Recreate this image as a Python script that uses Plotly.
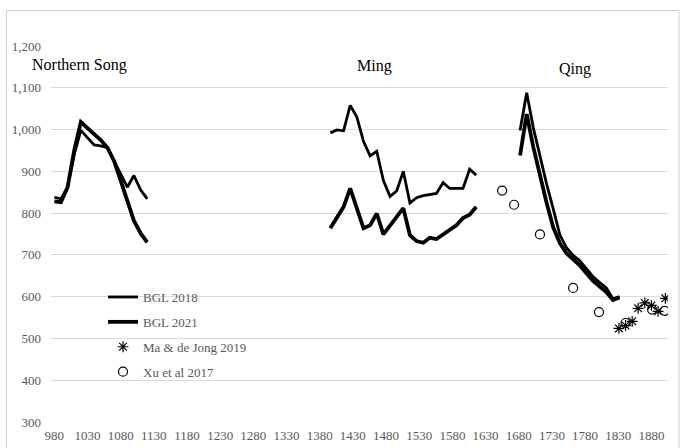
import plotly.graph_objects as go

# ---------------- data ----------------
ns_years = [980, 990, 1000, 1010, 1020, 1030, 1040, 1050, 1060, 1070, 1080, 1090, 1100, 1110, 1120]
ns_bgl2018 = [838, 834, 862, 940, 998, 980, 963, 961, 957, 925, 893, 862, 890, 856, 834]
ns_bgl2021 = [828, 826, 862, 950, 1018, 1004, 990, 975, 957, 925, 878, 830, 782, 752, 730]

ming_years = [1396, 1406, 1416, 1426, 1436, 1446, 1456, 1466, 1476, 1486, 1496, 1506,
              1516, 1526, 1536, 1546, 1556, 1566, 1576, 1586, 1596, 1606, 1616]
ming_bgl2018 = [992, 999, 997, 1058, 1030, 972, 937, 948, 878, 840, 853, 900,
                824, 837, 842, 845, 847, 873, 859, 859, 859, 905, 891]
ming_bgl2021 = [764, 790, 815, 859, 813, 764, 771, 799, 749, 769, 790, 812,
                747, 733, 729, 741, 738, 749, 759, 771, 788, 796, 815]

qing_years = [1682, 1692, 1702, 1712, 1722, 1732, 1742, 1752, 1762, 1772, 1782, 1792, 1802, 1812, 1822, 1832]
qing_bgl2018 = [998, 1088, 1004, 936, 870, 810, 748, 717, 699, 686, 667, 648, 634, 621, 595, 600]
qing_bgl2021 = [938, 1037, 958, 890, 825, 766, 728, 704, 689, 675, 656, 638, 624, 611, 592, 598]

ma_years = [1831, 1841, 1851, 1860, 1870, 1880, 1890, 1901]
ma_values = [524, 531, 541, 572, 585, 579, 565, 596]

xu_years = [1655, 1673, 1712, 1762, 1801, 1841, 1881, 1900]
xu_values = [854, 820, 749, 621, 563, 537, 569, 566]

era_labels = ["Northern Song", "Ming", "Qing"]
x_tick_labels = list(range(980, 1881, 50))
y_tick_values = list(range(300, 1201, 100))


def join_eras(year_lists, value_lists):
    xs, ys = [], []
    for i, (yr, vals) in enumerate(zip(year_lists, value_lists)):
        if i:
            xs.append(None)
            ys.append(None)
        xs.extend(yr)
        ys.extend(vals)
    return xs, ys


x18, y18 = join_eras([ns_years, ming_years, qing_years], [ns_bgl2018, ming_bgl2018, qing_bgl2018])
x21, y21 = join_eras([ns_years, ming_years, qing_years], [ns_bgl2021, ming_bgl2021, qing_bgl2021])

FONT = "Liberation Serif"
GREY = "#595959"

fig = go.Figure()
fig.add_trace(go.Scatter(x=x18, y=y18, mode="lines", name="BGL 2018", legendgroup="a",
                         line=dict(color="black", width=2.8), connectgaps=False))
fig.add_trace(go.Scatter(x=x21, y=y21, mode="lines", name="BGL 2021", legendgroup="b",
                         line=dict(color="black", width=3.8), connectgaps=False))
fig.add_trace(go.Scatter(x=ma_years, y=ma_values, mode="markers", name="Ma & de Jong 2019", legendgroup="c",
                         marker=dict(symbol="asterisk-open", size=9, color="black",
                                     line=dict(color="black", width=1.2))))
fig.add_trace(go.Scatter(x=xu_years, y=xu_values, mode="markers", name="Xu et al 2017", legendgroup="d",
                         marker=dict(symbol="circle-open", size=9, color="black",
                                     line=dict(color="black", width=1.2))))

L, T, W, H = 51, 46, 617, 376


def px2paper_x(p):
    return (p - L) / W


def py2paper_y(p):
    return (T + H - p) / H


# era labels
era_pos = [(30, 65), (355, 66), (557, 69)]
for lab, (px, py) in zip(era_labels, era_pos):
    fig.add_annotation(text=lab, xref="paper", yref="paper", x=px2paper_x(px), y=py2paper_y(py),
                       xanchor="left", yanchor="middle", showarrow=False,
                       font=dict(family=FONT, size=16, color="black"))

# chart frame
fig.add_shape(type="rect", xref="paper", yref="paper",
              x0=px2paper_x(6.5), x1=px2paper_x(679), y0=py2paper_y(470), y1=py2paper_y(10.5),
              line=dict(color="#d0d0d0", width=1), fillcolor="rgba(0,0,0,0)", layer="below")

fig.update_layout(
    width=680, height=448,
    margin=dict(l=L, r=680 - L - W, t=T, b=448 - T - H, autoexpand=False),
    paper_bgcolor="white", plot_bgcolor="white",
    font=dict(family=FONT, size=13, color=GREY),
    showlegend=True,
    legend=dict(x=px2paper_x(103), y=py2paper_y(282), xanchor="left", yanchor="top",
                bgcolor="rgba(0,0,0,0)", font=dict(family=FONT, size=13, color=GREY),
                tracegroupgap=5, traceorder="grouped"),
    xaxis=dict(range=[975, 1905], tickmode="array", tickvals=x_tick_labels,
               ticktext=[str(v) for v in x_tick_labels], showgrid=False, zeroline=False,
               showline=False, ticks="", ticklabelstandoff=4, automargin=False,
               tickfont=dict(family=FONT, size=13, color=GREY)),
    yaxis=dict(range=[300, 1200], tickmode="array", tickvals=y_tick_values,
               tickformat=",", showgrid=True, gridcolor="#d9d9d9", gridwidth=1,
               zeroline=False, showline=False, ticks="", ticklabelstandoff=9, automargin=False,
               tickfont=dict(family=FONT, size=13, color=GREY)),
)

fig.write_html("out.html", config={"displayModeBar": False},
               post_script="document.body.style.margin='0';")
